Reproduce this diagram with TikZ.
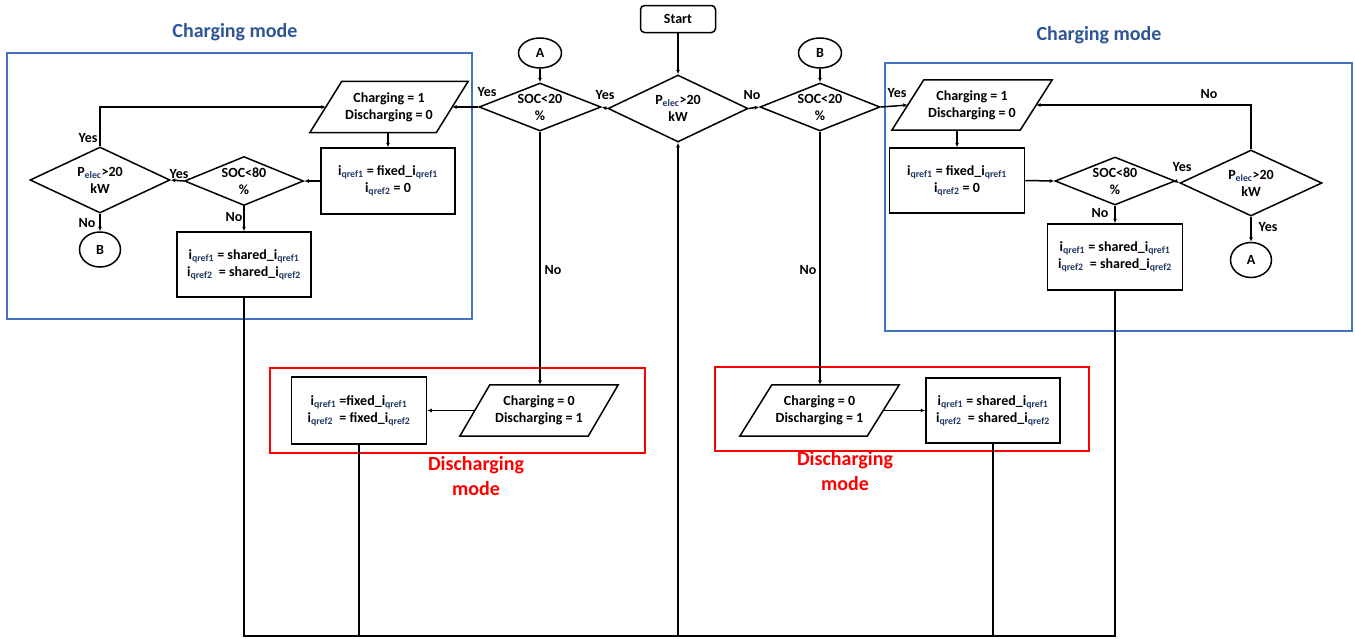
\documentclass[tikz,border=0pt]{standalone}
\usepackage{fontspec}
\setmainfont{Carlito}
\usetikzlibrary{shapes.geometric,arrows.meta}
\definecolor{modeblue}{HTML}{4472C4}
\definecolor{titleblue}{HTML}{2F5597}
\definecolor{modered}{HTML}{FF0000}
\definecolor{subblue}{HTML}{1F3864}
% subscript used for the current references
\newcommand\qs[1]{\textsubscript{\color{subblue}#1}}
% outline of an input/output parallelogram around a named node
\newcommand\drawpara[2]{%
  \draw[flow] ([xshift=#2]#1.north west) -- ([xshift=#2]#1.north east)
    -- ([xshift=-#2]#1.south east) -- ([xshift=-#2]#1.south west) -- cycle;}

\begin{document}
\begin{tikzpicture}[x=1pt,y=-1pt,
  font=\fontsize{14}{17}\selectfont\bfseries,
  flow/.style={line width=1.5pt, draw=black},
  arr/.style={flow, -{Latex[length=4.5pt,width=4pt]}},
  dec/.style={diamond, draw, line width=1.5pt, inner sep=0pt},
  dtext/.style={align=center, inner sep=0pt},
  proc/.style={rectangle, draw, line width=1.5pt, inner sep=0pt, align=center},
  io/.style={rectangle, inner sep=0pt, align=center},
  conn/.style={ellipse, draw, line width=1.5pt, inner sep=0pt},
  lbl/.style={inner sep=0pt},
  chbox/.style={draw=modeblue, line width=2pt},
  disbox/.style={draw=modered, line width=2pt},
  chtitle/.style={font=\fontsize{20}{24}\selectfont\bfseries, text=titleblue},
  distitle/.style={font=\fontsize{20}{25}\selectfont\bfseries, text=modered, align=center}
]
\useasboundingbox (0,0) rectangle (1355,638);

% mode frames and their titles
\draw[chbox] (7,53) rectangle (472,319);
\draw[chbox] (885,63) rectangle (1352,331);
\draw[disbox] (270,368) rectangle (645,453);
\draw[disbox] (715,367) rectangle (1089,451);
\node[chtitle] (tl) at (235,32) {Charging mode};
\node[chtitle] (tr) at (1099,35) {Charging mode};
\node[distitle] (dtl) at (476,476) {Discharging\\mode};
\node[distitle] (dtr) at (845,471) {Discharging\\mode};

% central decisions
\node[proc, rounded corners=4pt, minimum width=75pt, minimum height=27pt] (start) at (678,19) {Start};
\node[dec, minimum width=140pt, minimum height=67pt,
  label={[dtext]center:{P\qs{elec}>20\\kW}}] (pe) at (678,108.5) {};
\node[dec, minimum width=122pt, minimum height=48pt,
  label={[dtext]center:{SOC<20\\\%}}] (s1) at (540,107) {};
\node[dec, minimum width=120pt, minimum height=48pt,
  label={[dtext]center:{SOC<20\\\%}}] (s2) at (820,107) {};
\node[conn, minimum width=43pt, minimum height=30pt] (cA) at (540,53) {A};
\node[conn, minimum width=43pt, minimum height=30pt] (cB) at (820,53) {B};

% left charging branch
\node[io, minimum width=126pt, minimum height=51pt] (lp) at (389,107) {Charging = 1\\Discharging = 0};
\node[proc, minimum width=134pt, minimum height=66pt] (lf) at (388,181) {i\qs{qref1} = fixed\_i\qs{qref1}\\i\qs{qref2} = 0};
\node[dec, minimum width=119pt, minimum height=49pt,
  label={[dtext]center:{SOC<80\\\%}}] (l80) at (244,181) {};
\node[dec, minimum width=140pt, minimum height=66pt,
  label={[dtext]center:{P\qs{elec}>20\\kW}}] (lpe) at (100,180) {};
\node[conn, minimum width=41pt, minimum height=35pt] (lB) at (100,249.5) {B};
\node[proc, minimum width=134pt, minimum height=65pt] (ls) at (244,264.5) {i\qs{qref1} = shared\_i\qs{qref1}\\i\qs{qref2} \ = shared\_i\qs{qref2}};

% right charging branch
\node[io, minimum width=128pt, minimum height=50pt] (rp) at (972,105) {Charging = 1\\Discharging = 0};
\node[proc, minimum width=135pt, minimum height=65pt] (rf) at (957,180.5) {i\qs{qref1} = fixed\_i\qs{qref1}\\i\qs{qref2} = 0};
\node[dec, minimum width=120pt, minimum height=48pt,
  label={[dtext]center:{SOC<80\\\%}}] (r80) at (1115,181) {};
\node[dec, minimum width=142pt, minimum height=66pt,
  label={[dtext]center:{P\qs{elec}>20\\kW}}] (rpe) at (1251,183) {};
\node[conn, minimum width=41pt, minimum height=35pt] (rA) at (1251,260) {A};
\node[proc, minimum width=135pt, minimum height=66pt] (rs) at (1115,257) {i\qs{qref1} = shared\_i\qs{qref1}\\i\qs{qref2} \ = shared\_i\qs{qref2}};

% discharging branches
\node[io, minimum width=128pt, minimum height=51pt] (dlp) at (539,410.5) {Charging = 0\\Discharging = 1};
\node[proc, minimum width=135pt, minimum height=67pt] (dlf) at (359,410.5) {i\qs{qref1} =fixed\_i\qs{qref1}\\i\qs{qref2} \ = fixed\_i\qs{qref2}};
\node[io, minimum width=127pt, minimum height=51pt] (drp) at (819.5,410.5) {Charging = 0\\Discharging = 1};
\node[proc, minimum width=134pt, minimum height=65pt] (drs) at (993,410.5) {i\qs{qref1} = shared\_i\qs{qref1}\\i\qs{qref2} \ = shared\_i\qs{qref2}};

\drawpara{lp}{16pt}
\drawpara{rp}{16pt}
\drawpara{dlp}{15pt}
\drawpara{drp}{16pt}

% connectors
\draw[arr] (start) -- (pe.north);
\draw[arr] (cA) -- (cA.south |- s1.north);
\draw[arr] (cB) -- (cB.south |- s2.north);
\draw[arr] (pe.west) -- (s1.east);
\draw[arr] (pe.east) -- (s2.west);
\draw[arr] (s1.west) -- (lp.east);
\draw[arr] (s2.east) -- (rp.west);

\draw[arr] (lp.south -| lf.north) -- (lf.north);
\draw[arr] (lf.west) -- (l80.east);
\draw[arr] (l80.west) -- (lpe.east);
\draw[arr] (lpe.north) |- (lp.west);
\draw[arr] (lpe.south) -- (lB.north);
\draw[arr] (l80.south) -- (ls.north);

\draw[arr] (rp.south -| rf.north) -- (rf.north);
\draw[arr] (rf.east) -- (r80.west);
\draw[arr] (r80.east) -- (rpe.west);
\draw[arr] (rpe.north) |- (rp.east);
\draw[arr] (rpe.south) -- (rA.north);
\draw[arr] (r80.south) -- (r80.south |- rs.north);

\draw[arr] (s1.south) -- (s1.south |- dlp.north);
\draw[arr] (dlp.west) -- (dlf.east);
\draw[arr] (s2.south) -- (s2.south |- drp.north);
\draw[arr] (drp.east) -- (drs.west);

% return path to the first decision
\coordinate (join) at (678,636);
\draw[flow] (ls.south) |- (join);
\draw[flow] (rs.south) |- (join);
\draw[flow] (dlf.south) -- (dlf.south |- join);
\draw[flow] (drs.south) -- (drs.south |- join);
\draw[arr] (join) -- (pe.south);

% branch labels
\node[lbl] at (487,92) {Yes};
\node[lbl] at (605,95) {Yes};
\node[lbl] at (752,95) {No};
\node[lbl] at (897,93) {Yes};
\node[lbl] at (88,138) {Yes};
\node[lbl] at (179,174) {Yes};
\node[lbl] at (87,223) {No};
\node[lbl] at (234,217) {No};
\node[lbl] at (1209,94) {No};
\node[lbl] at (1182,167) {Yes};
\node[lbl] at (1268,227) {Yes};
\node[lbl] at (1100,213) {No};
\node[lbl] at (553,270) {No};
\node[lbl] at (808,270) {No};
\end{tikzpicture}
\end{document}
